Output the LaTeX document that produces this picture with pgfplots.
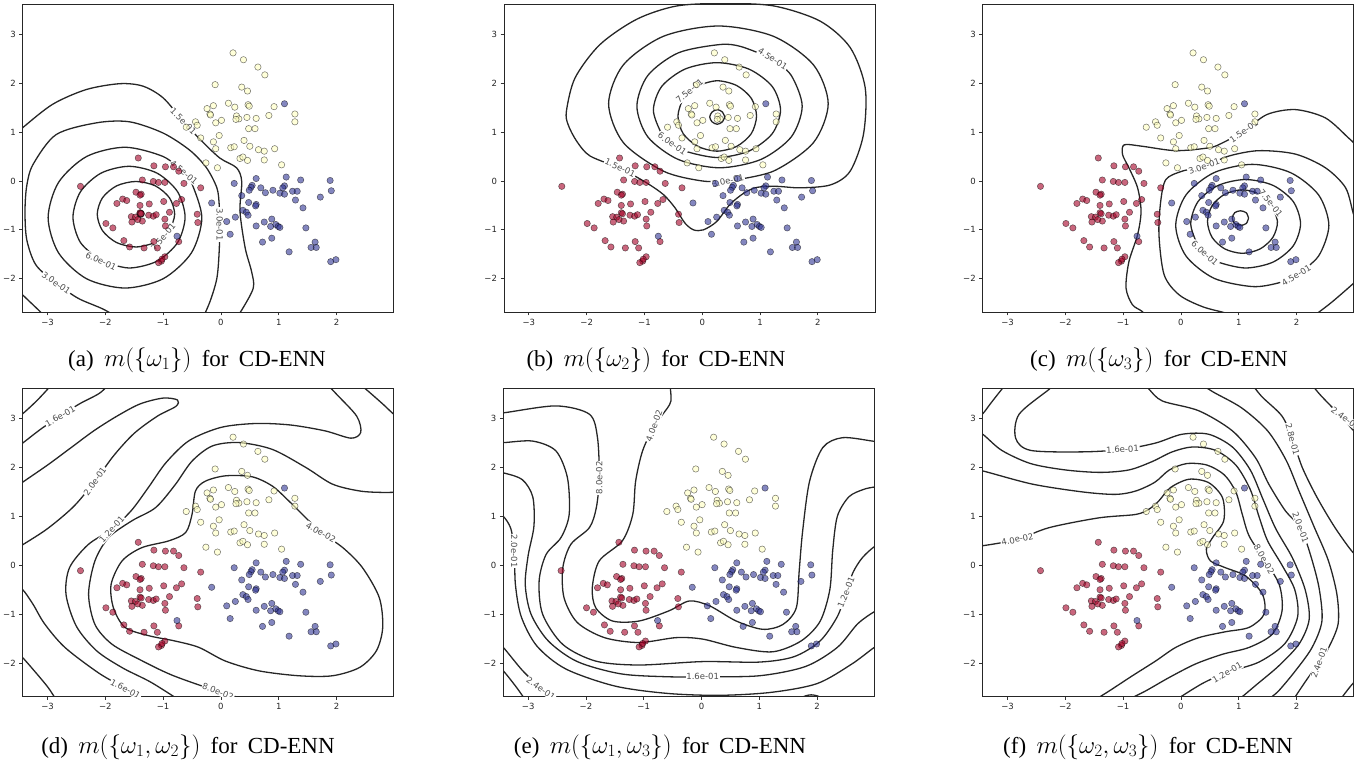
\documentclass[border=0pt]{standalone}
\usepackage{fontspec}
\setmainfont{Liberation Serif}
\newfontfamily\dejavu{DejaVu Sans}
\usepackage{pgfplots}
\usepackage{pgfplotstable}
\pgfplotsset{compat=1.18}

\definecolor{ptred}{HTML}{A50026}
\definecolor{ptyel}{HTML}{FFFFBF}
\definecolor{ptblue}{HTML}{313695}
\definecolor{cline}{HTML}{262626}

% samples, one table per class
\pgfplotstableread{
x y
-1.43 0.47
-1.16 0.31
-0.96 0.29
-0.82 0.29
-0.73 0.20
-1.36 0.02
-1.17 -0.01
-1.08 -0.03
-0.97 -0.03
-0.64 -0.05
-0.35 -0.14
-2.43 -0.11
-1.47 -0.23
-1.38 -0.27
-1.40 -0.29
-1.70 -0.37
-1.63 -0.40
-1.80 -0.46
-1.24 -0.47
-0.99 -0.42
-0.68 -0.38
-0.77 -0.46
-1.40 -0.50
-1.40 -0.65
-1.38 -0.67
-1.55 -0.73
-1.48 -0.74
-1.25 -0.70
-1.17 -0.72
-1.12 -0.69
-0.89 -0.64
-0.97 -0.78
-1.54 -0.84
-1.36 -0.82
-1.44 -0.79
-1.99 -0.87
-1.87 -0.96
-0.96 -0.92
-0.41 -0.68
-0.40 -0.85
-1.68 -1.22
-1.58 -1.35
-1.33 -1.37
-1.16 -1.24
-1.10 -1.37
-0.73 -1.24
-0.97 -1.55
-1.03 -1.64
-1.08 -1.67
-1.02 -1.60
}\redpts

\pgfplotstableread{
x y
0.21 2.62
0.39 2.48
0.64 2.33
0.76 2.17
-0.10 1.97
0.36 1.92
0.46 1.84
0.13 1.59
0.24 1.51
0.47 1.56
0.49 1.53
0.92 1.52
-0.13 1.54
-0.24 1.48
-0.19 1.37
-0.18 1.35
0.27 1.33
0.31 1.27
0.45 1.30
0.61 1.28
0.83 1.34
1.28 1.37
1.28 1.21
0.01 1.24
-0.09 1.19
0.26 1.26
-0.44 1.21
-0.41 1.14
-0.60 1.10
0.48 1.07
0.59 1.07
-0.35 0.88
-0.03 0.93
-0.13 0.80
0.40 0.83
-0.09 0.66
0.17 0.68
0.23 0.70
0.50 0.71
0.65 0.64
0.75 0.61
0.93 0.66
0.33 0.46
0.38 0.49
0.46 0.42
0.75 0.43
-0.26 0.37
-0.06 0.27
1.05 0.33
}\yelpts

\pgfplotstableread{
x y
0.23 -0.05
0.61 0.05
1.13 0.08
1.38 0.02
1.89 0.01
0.54 -0.09
0.52 -0.13
0.49 -0.19
0.69 -0.14
0.77 -0.24
0.90 -0.19
1.02 -0.25
1.10 -0.10
1.07 -0.14
1.10 -0.27
1.24 -0.21
1.32 -0.21
1.29 -0.39
1.72 -0.33
1.91 -0.20
1.42 -0.55
0.36 -0.30
0.48 -0.44
0.61 -0.48
0.60 -0.51
-0.16 -0.45
0.38 -0.60
0.44 -0.64
0.47 -0.70
0.25 -0.74
0.10 -0.83
0.16 -1.09
0.61 -0.92
0.75 -0.84
0.88 -0.78
0.86 -0.93
0.95 -0.89
0.99 -0.93
1.02 -0.95
0.72 -1.25
0.88 -1.17
1.18 -1.45
1.47 -0.96
1.63 -1.25
1.56 -1.36
1.65 -1.36
1.90 -1.65
1.99 -1.61
-0.76 -1.13
1.10 1.58
}\bluepts

\pgfplotsset{
  panel/.style={
    scale only axis, width=371pt, height=308pt, anchor=north west,
    xmin=-3.43, xmax=2.99, ymin=-2.68, ymax=3.62,
    xtick={-3,-2,-1,0,1,2}, ytick={-2,-1,0,1,2,3},
    xticklabels={−3,−2,−1,0,1,2}, yticklabels={−2,−1,0,1,2,3},
    tick pos=left, tick align=outside, major tick length=3.5pt,
    tick style={black!80, line width=0.8pt},
    axis line style={black!85, line width=0.8pt},
    tick label style={font=\dejavu\fontsize{8.5}{9}\selectfont, text=black!85},
  },
  cont/.style={smooth, no marks, line width=1.3pt, draw=cline},
}
\tikzset{
  clab/.style={font=\dejavu\fontsize{8.5}{9}\selectfont, text=black!70,
               fill=white, inner sep=0.8pt},
  captxt/.style={font=\fontsize{23}{27}\selectfont},
}
\newcommand\samples{%
  \addplot[only marks, mark=*, mark size=3.2pt, mark options={fill=ptred,
    fill opacity=0.6, draw=black, draw opacity=0.55, line width=0.5pt}] table {\redpts};
  \addplot[only marks, mark=*, mark size=3.2pt, mark options={fill=ptyel,
    fill opacity=0.6, draw=black, draw opacity=0.55, line width=0.5pt}] table {\yelpts};
  \addplot[only marks, mark=*, mark size=3.2pt, mark options={fill=ptblue,
    fill opacity=0.6, draw=black, draw opacity=0.55, line width=0.5pt}] table {\bluepts};
}
\newcommand\gap{\hspace{0.45em}}

\begin{document}
\begin{tikzpicture}
\path[use as bounding box] (0,0) rectangle (1367pt,-765pt);

% (a)
\begin{axis}[panel, at={(22.7pt,-4pt)}]
\addplot[cont] coordinates {(-1.33,-0.67) (-1.35,-0.62) (-1.39,-0.60) (-1.43,-0.62) (-1.45,-0.67) (-1.43,-0.72) (-1.39,-0.74) (-1.35,-0.72) (-1.33,-0.67)};
\addplot[cont] coordinates {(-1.00,-1.15) (-0.89,-1.015) (-0.80,-0.68) (-0.89,-0.345) (-1.135,-0.10) (-1.47,-0.01) (-1.805,-0.10) (-2.05,-0.345) (-2.14,-0.68) (-2.05,-1.015) (-1.805,-1.26) (-1.47,-1.35) (-1.135,-1.26) (-1.00,-1.15)};
\addplot[cont] coordinates {(-2.075,-1.64) (-1.59,-1.78) (-1.105,-1.64) (-0.75,-1.26) (-0.62,-0.74) (-0.75,-0.22) (-1.105,0.16) (-1.59,0.30) (-2.075,0.16) (-2.43,-0.22) (-2.56,-0.74) (-2.43,-1.26) (-2.075,-1.64)};
\addplot[cont] coordinates {(-0.64,0.18) (-1.0,0.50) (-1.66,0.69) (-2.325,0.50) (-2.81,-0.03) (-2.99,-0.75) (-2.81,-1.47) (-2.325,-2.0) (-1.66,-2.19) (-1.0,-2.0) (-0.51,-1.47) (-0.33,-0.75) (-0.51,-0.03) (-0.64,0.18)};
\addplot[cont] coordinates {(-1.7,-2.85) (-2.04,-2.62) (-2.47,-2.40) (-2.85,-2.09) (-3.2,-1.72) (-3.36,-1.2) (-3.39,-0.62) (-3.36,-0.1) (-3.25,0.34) (-2.85,0.95) (-2.15,1.19) (-1.58,1.21) (-1.0,0.98) (-0.54,0.63) (-0.25,0.27) (-0.07,-0.14) (-0.03,-0.48) (-0.02,-0.89) (-0.03,-1.44) (-0.07,-1.99) (-0.19,-2.47) (-0.35,-2.9)};
\addplot[cont] coordinates {(-3.7,0.8) (-3.43,1.09) (-2.91,1.57) (-2.33,1.87) (-1.75,1.99) (-1.35,1.94) (-1.0,1.70) (-0.65,1.22) (-0.36,0.85) (-0.02,0.47) (0.27,0.27) (0.36,-0.01) (0.33,-0.62) (0.42,-1.37) (0.53,-1.85) (0.56,-2.19) (0.36,-2.64) (0.2,-2.9)};
\addplot[cont] coordinates {(-3.65,-2.05) (-3.43,-2.33) (-3.14,-2.66) (-3.0,-2.85)};
\node[clab, rotate=-45] at (axis cs:-0.65,1.22) {1.5e-01};
\node[clab, rotate=-40] at (axis cs:-0.64,0.18) {4.5e-01};
\node[clab, rotate=-90] at (axis cs:-0.02,-0.89) {3.0e-01};
\node[clab, rotate=50] at (axis cs:-1.00,-1.15) {7.5e-01};
\node[clab, rotate=-25] at (axis cs:-2.075,-1.64) {6.0e-01};
\node[clab, rotate=-35] at (axis cs:-2.85,-2.09) {3.0e-01};
\samples
\end{axis}

% (b)
\begin{axis}[panel, at={(504pt,-4pt)}]
\addplot[cont] coordinates {(0.39,1.31) (0.35,1.41) (0.26,1.46) (0.17,1.41) (0.13,1.31) (0.17,1.21) (0.26,1.16) (0.35,1.21) (0.39,1.31)};
\addplot[cont] coordinates {(-0.22,1.84) (-0.33,1.69) (-0.42,1.33) (-0.33,0.97) (-0.08,0.71) (0.26,0.61) (0.60,0.71) (0.85,0.97) (0.94,1.33) (0.85,1.69) (0.60,1.95) (0.26,2.05) (-0.08,1.95) (-0.22,1.84)};
\addplot[cont] coordinates {(-0.52,0.76) (-0.295,0.61) (0.255,0.48) (0.805,0.61) (1.21,0.965) (1.355,1.45) (1.21,1.935) (0.805,2.29) (0.255,2.42) (-0.295,2.29) (-0.70,1.935) (-0.845,1.45) (-0.70,0.965) (-0.52,0.76)};
\addplot[cont] coordinates {(1.22,2.50) (0.67,2.75) (0.30,2.79) (-0.415,2.62) (-0.94,2.16) (-1.13,1.53) (-0.94,0.90) (-0.415,0.44) (0.30,0.27) (1.015,0.44) (1.54,0.90) (1.73,1.53) (1.54,2.16) (1.22,2.50)};
\addplot[cont] coordinates {(0.445,0.0) (1.23,0.2) (1.925,0.785) (2.18,1.58) (1.925,2.375) (1.23,2.96) (0.28,3.17) (-0.67,2.96) (-1.365,2.375) (-1.62,1.58) (-1.365,0.785) (-0.67,0.2) (0.0,0.0) (0.445,0.0)};
\addplot[cont] coordinates {(-1.42,0.27) (-0.96,-0.04) (-0.67,-0.28) (-0.47,-0.55) (-0.30,-0.86) (-0.15,-1.00) (0.02,-1.00) (0.25,-0.83) (0.48,-0.48) (0.72,-0.25) (0.95,-0.13) (1.29,-0.11) (1.70,-0.14) (2.22,-0.08) (2.56,0.20) (2.79,0.95) (2.82,1.91) (2.56,2.73) (2.04,3.27) (1.24,3.58) (0.37,3.63) (-0.44,3.58) (-1.13,3.31) (-1.77,2.79) (-2.20,2.11) (-2.35,1.43) (-2.32,1.15) (-2.17,0.81) (-1.94,0.51) (-1.42,0.27)};
\node[clab, rotate=-25] at (axis cs:-1.42,0.27) {1.5e-01};
\node[clab, rotate=40] at (axis cs:-0.22,1.84) {7.5e-01};
\node[clab, rotate=-35] at (axis cs:-0.52,0.76) {6.0e-01};
\node[clab, rotate=-32] at (axis cs:1.22,2.50) {4.5e-01};
\node[clab, rotate=12] at (axis cs:0.445,0.0) {3.0e-01};
\samples
\end{axis}

% (c)
\begin{axis}[panel, at={(982.7pt,-4pt)}]
\addplot[cont] coordinates {(1.17,-0.76) (1.13,-0.65) (1.03,-0.61) (0.93,-0.65) (0.89,-0.76) (0.93,-0.87) (1.03,-0.91) (1.13,-0.87) (1.17,-0.76)};
\addplot[cont] coordinates {(1.555,-0.45) (1.37,-0.27) (1.065,-0.18) (0.76,-0.27) (0.54,-0.505) (0.46,-0.83) (0.54,-1.155) (0.76,-1.39) (1.065,-1.48) (1.37,-1.39) (1.59,-1.155) (1.67,-0.83) (1.555,-0.45)};
\addplot[cont] coordinates {(0.414,-1.48) (0.645,-1.659) (1.12,-1.78) (1.595,-1.659) (1.943,-1.328) (2.07,-0.875) (1.943,-0.42) (1.595,-0.091) (1.12,0.03) (0.645,-0.091) (0.297,-0.42) (0.17,-0.875) (0.297,-1.328) (0.414,-1.48)};
\addplot[cont] coordinates {(1.995,-1.934) (2.382,-1.535) (2.56,-0.91) (2.382,-0.285) (1.898,0.17) (1.235,0.34) (0.572,0.17) (0.088,-0.285) (-0.09,-0.91) (0.088,-1.535) (0.572,-1.99) (1.235,-2.16) (1.688,-2.085) (1.995,-1.934)};
\addplot[cont] coordinates {(3.1,-0.9) (2.99,-0.69) (2.85,-0.14) (2.50,0.27) (1.98,0.55) (1.35,0.62) (0.83,0.51) (0.40,0.30) (0.02,0.20) (-0.26,0.03) (-0.35,-0.42) (-0.38,-1.10) (-0.29,-1.92) (-0.03,-2.33) (0.37,-2.57) (0.77,-2.70) (1.0,-2.8)};
\addplot[cont] coordinates {(3.15,-1.9) (2.99,-2.09) (2.62,-2.47) (2.39,-2.68) (2.2,-2.85)};
\addplot[cont] coordinates {(3.1,0.65) (2.99,0.78) (2.90,0.88) (2.50,1.29) (1.98,1.46) (1.49,1.36) (1.09,1.02) (0.72,0.78) (0.49,0.68) (-0.09,0.62) (-0.67,0.71) (-0.98,0.74) (-1.01,0.54) (-0.90,0.27) (-0.75,-0.14) (-0.69,-0.62) (-0.75,-1.10) (-0.90,-1.65) (-0.95,-2.19) (-0.84,-2.53) (-0.67,-2.67) (-0.55,-2.85)};
\node[clab, rotate=35] at (axis cs:1.09,1.02) {1.5e-01};
\node[clab, rotate=20] at (axis cs:0.40,0.30) {3.0e-01};
\node[clab, rotate=-51] at (axis cs:1.555,-0.45) {7.5e-01};
\node[clab, rotate=-42] at (axis cs:0.414,-1.48) {6.0e-01};
\node[clab, rotate=32] at (axis cs:1.995,-1.934) {4.5e-01};
\samples
\end{axis}

% (d)
\begin{axis}[panel, at={(22.7pt,-388.3pt)}]
\addplot[cont] coordinates {(1.73,0.67) (2.11,0.36) (2.45,-0.05) (2.74,-0.66) (2.80,-1.27) (2.69,-1.75) (2.40,-2.09) (1.93,-2.26) (1.35,-2.26) (0.66,-2.16) (0.08,-1.96) (-0.38,-1.68) (-0.79,-1.55) (-1.25,-1.44) (-1.66,-1.27) (-1.86,-0.87) (-1.90,-0.39) (-1.71,0.09) (-1.37,0.36) (-0.90,0.50) (-0.61,0.67) (-0.50,1.04) (-0.44,1.52) (-0.27,1.72) (0.08,1.83) (0.54,1.81) (0.89,1.62) (1.18,1.31) (1.41,1.04) (1.73,0.67)};
\addplot[cont] coordinates {(3.2,1.5) (2.80,1.49) (2.40,1.52) (1.93,1.66) (1.47,2.0) (0.89,2.37) (0.31,2.51) (-0.15,2.44) (-0.50,2.13) (-0.79,1.65) (-1.13,1.18) (-1.54,0.91) (-1.94,0.57) (-2.18,0.09) (-2.29,-0.59) (-2.18,-1.21) (-1.89,-1.61) (-1.42,-1.92) (-0.84,-2.25) (-0.05,-2.58) (0.43,-2.75) (0.7,-2.9)};
\addplot[cont] coordinates {(-0.6,-2.85) (-1.2,-2.4) (-1.7,-2.1) (-2.15,-1.75) (-2.5,-1.25) (-2.68,-0.6) (-2.62,-0.05) (-2.3,0.42) (-1.89,0.74) (-1.55,1.12) (-1.25,1.6) (-0.95,2.1) (-0.55,2.55) (0.0,2.82) (0.6,2.9) (1.2,2.87) (1.8,2.75) (2.25,2.6) (2.42,2.72) (2.35,3.05) (2.0,3.5) (1.8,3.75)};
\addplot[cont] coordinates {(-3.6,1.55) (-3.43,1.7) (-3.0,2.05) (-2.6,2.4) (-2.2,2.75) (-1.8,3.05) (-1.4,3.3) (-1.0,3.42) (-0.75,3.38) (-0.78,3.25) (-1.1,3.05) (-1.5,2.7) (-1.85,2.25) (-2.18,1.72) (-2.55,1.2) (-3.0,0.75) (-3.43,0.42) (-3.6,0.3)};
\addplot[cont] coordinates {(-3.6,2.35) (-3.43,2.5) (-3.1,2.8) (-2.78,3.05) (-2.45,3.3) (-2.1,3.52) (-1.9,3.75)};
\addplot[cont] coordinates {(-3.6,2.95) (-3.43,3.1) (-3.2,3.35) (-3.0,3.6) (-2.9,3.75)};
\addplot[cont] coordinates {(-1.25,-2.9) (-1.65,-2.53) (-2.12,-2.2) (-2.70,-1.68) (-3.05,-1.2) (-3.25,-0.8) (-3.43,-0.5) (-3.6,-0.4)};
\addplot[cont] coordinates {(-3.6,-1.7) (-3.43,-1.89) (-3.2,-2.2) (-2.99,-2.5) (-2.85,-2.75) (-2.75,-2.9)};
\addplot[cont] coordinates {(2.3,3.8) (2.51,3.6) (2.8,3.3) (2.99,3.09) (3.2,2.9)};
\node[clab, rotate=-30] at (axis cs:1.73,0.67) {4.0e-02};
\node[clab, rotate=-20] at (axis cs:-0.05,-2.58) {8.0e-02};
\node[clab, rotate=48] at (axis cs:-1.89,0.74) {1.2e-01};
\node[clab, rotate=55] at (axis cs:-2.18,1.72) {2.0e-01};
\node[clab, rotate=30] at (axis cs:-2.78,3.05) {1.6e-01};
\node[clab, rotate=-28] at (axis cs:-1.65,-2.53) {1.6e-01};
\samples
\end{axis}

% (e)
\begin{axis}[panel, at={(503.3pt,-388.3pt)}]
\addplot[cont] coordinates {(-0.56,3.8) (-0.53,3.36) (-0.67,3.09) (-0.82,2.85) (-1.02,2.34) (-1.14,1.72) (-1.19,1.04) (-1.37,0.50) (-1.77,0.09) (-1.89,-0.46) (-1.83,-0.87) (-1.54,-1.14) (-1.08,-1.14) (-0.56,-0.93) (-0.21,-0.73) (0.14,-0.83) (0.60,-1.14) (1.06,-1.31) (1.41,-1.21) (1.64,-0.87) (1.69,-0.12) (1.75,0.70) (1.87,1.72) (2.10,2.41) (2.44,2.61) (2.96,2.54) (3.2,2.5)};
\addplot[cont] coordinates {(-3.6,3.13) (-3.42,3.12) (-2.52,3.26) (-1.94,3.09) (-1.80,2.61) (-1.77,1.79) (-1.82,1.18) (-1.94,0.77) (-2.26,0.43) (-2.40,-0.05) (-2.38,-0.66) (-2.15,-1.17) (-1.68,-1.48) (-1.08,-1.58) (-0.44,-1.48) (0.02,-1.51) (0.60,-1.68) (1.23,-1.77) (1.72,-1.55) (2.05,-1.15) (2.22,-0.5) (2.27,0.3) (2.35,1.0) (2.55,1.4) (2.8,1.55) (2.99,1.6) (3.2,1.62)};
\addplot[cont] coordinates {(-3.6,2.52) (-3.42,2.51) (-2.92,2.54) (-2.52,2.34) (-2.32,1.79) (-2.29,1.04) (-2.43,0.57) (-2.69,0.22) (-2.81,-0.32) (-2.75,-1.0) (-2.40,-1.62) (-1.83,-1.96) (-1.08,-2.04) (0.02,-1.97) (1.0,-1.98) (1.6,-1.87) (2.05,-1.55) (2.35,-1.05) (2.50,-0.56) (2.62,-0.15) (2.78,0.15) (2.99,0.38) (3.2,0.5)};
\addplot[cont] coordinates {(-3.6,1.89) (-3.43,1.89) (-3.1,1.75) (-2.92,1.4) (-2.9,0.8) (-3.0,0.2) (-3.05,-0.4) (-2.95,-1.0) (-2.65,-1.55) (-2.15,-1.97) (-1.4,-2.22) (-0.6,-2.28) (0.02,-2.28) (1.0,-2.26) (1.8,-2.07) (2.35,-1.68) (2.7,-1.2) (2.99,-0.95) (3.2,-0.85)};
\addplot[cont] coordinates {(-3.6,1.1) (-3.43,1.0) (-3.3,0.75) (-3.24,0.29) (-3.22,-0.4) (-3.12,-1.05) (-2.85,-1.65) (-2.35,-2.12) (-1.5,-2.47) (-0.6,-2.62) (0.3,-2.66) (1.2,-2.6) (2.0,-2.42) (2.6,-2.02) (2.99,-1.68) (3.2,-1.55)};
\addplot[cont] coordinates {(-3.6,-1.5) (-3.43,-1.68) (-3.1,-2.15) (-2.78,-2.52) (-2.6,-2.75) (-2.5,-2.9)};
\addplot[cont] coordinates {(-3.6,-2.0) (-3.43,-2.16) (-3.2,-2.5) (-3.05,-2.75) (-2.95,-2.9)};
\addplot[cont] coordinates {(1.5,-2.9) (1.7,-2.72) (1.9,-2.65) (2.1,-2.72) (2.25,-2.9)};
\node[clab, rotate=70] at (axis cs:-0.82,2.85) {4.0e-02};
\node[clab, rotate=90] at (axis cs:-1.77,1.79) {8.0e-02};
\node[clab, rotate=68] at (axis cs:2.50,-0.56) {1.2e-01};
\node[clab] at (axis cs:0.02,-2.28) {1.6e-01};
\node[clab, rotate=-90] at (axis cs:-3.24,0.29) {2.0e-01};
\node[clab, rotate=-35] at (axis cs:-2.78,-2.52) {2.4e-01};
\samples
\end{axis}

% (f)
\begin{axis}[panel, at={(982.7pt,-388.3pt)}]
\addplot[cont] coordinates {(-3.6,0.40) (-3.43,0.40) (-2.83,0.53) (-2.28,0.77) (-1.42,0.97) (-0.78,1.04) (-0.55,1.15) (-0.38,1.32) (-0.18,1.59) (0.14,1.76) (0.48,1.69) (0.72,1.38) (0.74,0.91) (0.55,0.57) (0.44,0.33) (0.51,0.09) (0.77,-0.05) (1.12,-0.22) (1.41,-0.59) (1.44,-1.00) (1.18,-1.27) (0.77,-1.36) (0.31,-1.48) (-0.09,-1.68) (-0.44,-1.96) (-0.84,-2.26) (-1.24,-2.57) (-1.47,-2.74) (-1.6,-2.85)};
\addplot[cont] coordinates {(-3.6,1.95) (-3.43,1.93) (-2.57,1.66) (-1.70,1.50) (-1.13,1.45) (-0.78,1.52) (-0.45,1.70) (-0.2,1.95) (0.1,2.08) (0.45,2.05) (0.75,1.85) (0.95,1.5) (1.06,1.05) (1.18,0.6) (1.44,0.12) (1.70,-0.39) (1.75,-0.93) (1.58,-1.41) (1.18,-1.68) (0.72,-1.82) (0.25,-2.02) (-0.21,-2.30) (-0.61,-2.57) (-0.90,-2.74) (-1.1,-2.85)};
\addplot[cont] coordinates {(-3.6,2.75) (-3.43,2.68) (-3.1,2.35) (-2.6,2.08) (-2.0,1.95) (-1.4,1.9) (-0.9,1.95) (-0.5,2.12) (-0.15,2.32) (0.2,2.42) (0.6,2.35) (0.95,2.05) (1.2,1.55) (1.35,1.0) (1.5,0.5) (1.75,0.0) (1.97,-0.5) (2.02,-1.05) (1.8,-1.6) (1.35,-1.98) (0.80,-2.19) (0.4,-2.4) (0.05,-2.65) (-0.2,-2.85)};
\addplot[cont] coordinates {(-2.15,3.75) (-2.28,3.60) (-2.80,3.09) (-2.86,2.6) (-2.6,2.35) (-1.70,2.32) (-1.01,2.37) (-0.44,2.5) (0.02,2.68) (0.48,2.68) (0.89,2.42) (1.2,1.95) (1.42,1.35) (1.64,0.75) (1.93,0.15) (2.15,-0.5) (2.22,-1.1) (2.05,-1.6) (1.7,-2.05) (1.3,-2.45) (1.0,-2.75) (0.85,-2.9)};
\addplot[cont] coordinates {(-0.65,3.75) (-0.55,3.60) (-0.32,3.36) (0.31,3.16) (0.89,2.75) (1.29,2.20) (1.52,1.66) (1.81,1.11) (2.07,0.77) (2.24,0.22) (2.39,-0.46) (2.44,-1.14) (2.27,-1.68) (1.98,-2.16) (1.69,-2.57) (1.52,-2.74) (1.4,-2.9)};
\addplot[cont] coordinates {(0.3,3.75) (0.55,3.55) (1.05,3.22) (1.5,2.75) (1.82,2.15) (2.05,1.5) (2.3,0.8) (2.55,0.1) (2.7,-0.6) (2.72,-1.2) (2.55,-1.7) (2.39,-1.99) (2.2,-2.3) (2.0,-2.65) (1.9,-2.85)};
\addplot[cont] coordinates {(1.2,3.75) (1.4,3.45) (1.75,3.05) (1.93,2.58) (2.1,2.0) (2.35,1.4) (2.65,0.8) (2.95,0.3) (3.2,0.0)};
\addplot[cont] coordinates {(2.2,3.8) (2.4,3.5) (2.79,3.02) (2.99,2.75) (3.2,2.5)};
\addplot[cont] coordinates {(3.2,-2.2) (2.99,-2.4) (2.8,-2.68) (2.7,-2.85)};
\addplot[cont] coordinates {(-2.95,3.8) (-3.1,3.6) (-3.3,3.3) (-3.43,3.1) (-3.6,2.95)};
\node[clab, rotate=12] at (axis cs:-2.83,0.53) {4.0e-02};
\node[clab, rotate=-60] at (axis cs:1.44,0.12) {8.0e-02};
\node[clab, rotate=30] at (axis cs:0.80,-2.19) {1.2e-01};
\node[clab, rotate=3] at (axis cs:-1.01,2.37) {1.6e-01};
\node[clab, rotate=-70] at (axis cs:2.07,0.77) {2.0e-01};
\node[clab, rotate=70] at (axis cs:2.39,-1.99) {2.4e-01};
\node[clab, rotate=-75] at (axis cs:1.93,2.58) {2.8e-01};
\node[clab, rotate=-35] at (axis cs:2.85,3.0) {2.4e-01};
\samples
\end{axis}

\node[captxt] at (197pt,-360pt) {(a)\gap$m(\{\omega_1\})$\gap for\gap CD-ENN};
\node[captxt] at (656pt,-360pt) {(b)\gap$m(\{\omega_2\})$\gap for\gap CD-ENN};
\node[captxt] at (1159pt,-360pt) {(c)\gap$m(\{\omega_3\})$\gap for\gap CD-ENN};
\node[captxt] at (188pt,-747pt) {(d)\gap$m(\{\omega_1,\omega_2\})$\gap for\gap CD-ENN};
\node[captxt] at (660pt,-747pt) {(e)\gap$m(\{\omega_1,\omega_3\})$\gap for\gap CD-ENN};
\node[captxt] at (1148pt,-747pt) {(f)\gap$m(\{\omega_2,\omega_3\})$\gap for\gap CD-ENN};
\end{tikzpicture}
\end{document}
